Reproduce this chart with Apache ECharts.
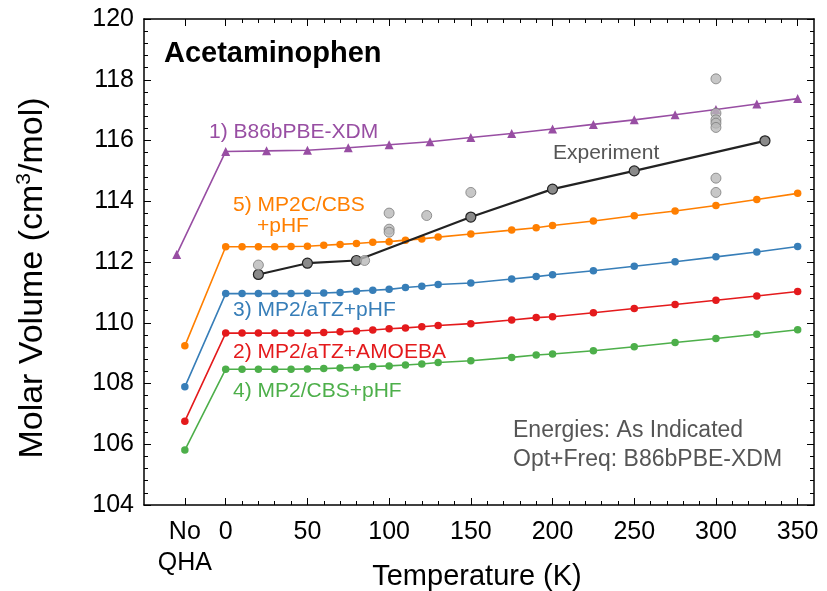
<!DOCTYPE html>
<html><head><meta charset="utf-8">
<script src="https://cdn.jsdelivr.net/npm/echarts@6/dist/echarts.min.js"></script>
<style>html,body{margin:0;padding:0;background:#fff}#c{width:827px;height:591px}</style>
</head><body><div id="c"></div>
<script>
// ---- data ----
const tempsCalc = [-25, 0, 10, 20, 30, 40, 50, 60, 70, 80, 90, 100, 110, 120, 130, 150, 175, 190, 200, 225, 250, 275, 300, 325, 350];
const mp2cCbs   = [109.24, 112.50, 112.50, 112.50, 112.50, 112.51, 112.52, 112.55, 112.58, 112.61, 112.65, 112.67, 112.72, 112.76, 112.82, 112.92, 113.05, 113.13, 113.20, 113.35, 113.52, 113.68, 113.86, 114.06, 114.26];
const mp2aTZ    = [107.89, 110.96, 110.96, 110.96, 110.96, 110.96, 110.97, 110.98, 111.00, 111.04, 111.07, 111.10, 111.16, 111.20, 111.26, 111.31, 111.44, 111.52, 111.58, 111.71, 111.86, 112.01, 112.17, 112.33, 112.51];
const mp2Amoeba = [106.76, 109.66, 109.66, 109.66, 109.66, 109.66, 109.66, 109.68, 109.70, 109.73, 109.76, 109.80, 109.83, 109.87, 109.91, 109.97, 110.09, 110.17, 110.20, 110.33, 110.47, 110.60, 110.74, 110.88, 111.03];
const mp2Cbs    = [105.81, 108.47, 108.47, 108.47, 108.47, 108.47, 108.48, 108.49, 108.51, 108.53, 108.56, 108.58, 108.61, 108.64, 108.69, 108.75, 108.86, 108.94, 108.97, 109.08, 109.21, 109.35, 109.48, 109.62, 109.77];
const tempsDft  = [-30, 0, 25, 50, 75, 100, 125, 150, 175, 200, 225, 250, 275, 300, 325, 350];
const b86bpbe   = [112.25, 115.64, 115.66, 115.68, 115.76, 115.86, 115.96, 116.10, 116.23, 116.38, 116.53, 116.68, 116.85, 117.02, 117.20, 117.38];
const tempsExp  = [20, 50, 80, 150, 200, 250, 330];
const expVol    = [111.59, 111.96, 112.05, 113.48, 114.40, 115.00, 115.99];
const otherExpT = [20, 85, 100, 100, 100, 123, 150, 300, 300, 300, 300, 300, 300, 300];
const otherExpV = [111.90, 112.05, 113.61, 113.08, 112.98, 113.53, 114.29, 118.03, 116.90, 116.68, 116.57, 116.43, 114.76, 114.29];
const xMajor = [-25, 0, 50, 100, 150, 200, 250, 300, 350];
const xMinor = [10,20,30,40,60,70,80,90,110,120,130,140,160,170,180,190,210,220,230,240,260,270,280,290,310,320,330,340];
const seriesNames = ['1) B86bPBE-XDM', '2) MP2/aTZ+AMOEBA', '3) MP2/aTZ+pHF', '4) MP2/CBS+pHF', '5) MP2C/CBS'];

const zip = (xs, ys) => xs.map((x, i) => [x, ys[i]]);
const FONT = 'Liberation Sans, Arial, Helvetica, sans-serif';

const chart = echarts.init(document.getElementById('c'), null, {renderer: 'canvas'});
const baseX = {type: 'value', min: -50, max: 360, splitLine: {show: false}};
const tickStyle = {color: '#000', width: 1};
const frameLine = {show: true, onZero: false, lineStyle: {color: '#000', width: 1.5}};
const option = {
  animation: false,
  backgroundColor: '#fff',
  grid: {left: 144, right: 13, top: 19, bottom: 86, containLabel: false},
  xAxis: [
    Object.assign({}, baseX, {position: 'bottom', axisLine: frameLine,
      axisTick: {show: true, inside: true, length: 7, customValues: xMajor, lineStyle: tickStyle},
      axisLabel: {show: true, customValues: xMajor, margin: 12, color: '#000', fontSize: 25, fontFamily: FONT, lineHeight: 31,
        formatter: v => v === -25 ? 'No\nQHA' : String(v)}}),
    Object.assign({}, baseX, {position: 'bottom', axisLine: {show: false, onZero: false},
      axisTick: {show: true, inside: true, length: 4, customValues: xMinor, lineStyle: tickStyle}, axisLabel: {show: false}}),
    Object.assign({}, baseX, {position: 'top', axisLine: frameLine,
      axisTick: {show: true, inside: true, length: 7, customValues: xMajor, lineStyle: tickStyle}, axisLabel: {show: false}}),
    Object.assign({}, baseX, {position: 'top', axisLine: {show: false, onZero: false},
      axisTick: {show: true, inside: true, length: 4, customValues: xMinor, lineStyle: tickStyle}, axisLabel: {show: false}})
  ],
  yAxis: [
    {type: 'value', min: 104, max: 120, interval: 2, position: 'left', axisLine: frameLine,
      axisTick: {show: true, inside: true, length: 7, lineStyle: tickStyle},
      minorTick: {show: true, splitNumber: 5, length: 4, lineStyle: tickStyle},
      splitLine: {show: false},
      axisLabel: {color: '#000', fontSize: 25, fontFamily: FONT, margin: 10}},
    {type: 'value', min: 104, max: 120, interval: 2, position: 'right', axisLine: frameLine,
      axisTick: {show: true, inside: true, length: 7, lineStyle: tickStyle},
      minorTick: {show: true, splitNumber: 5, length: 4, lineStyle: tickStyle},
      splitLine: {show: false}, axisLabel: {show: false}}
  ],
  series: [
    {name: seriesNames[0], type: 'line', data: zip(tempsDft, b86bpbe), symbol: 'triangle', symbolSize: 9,
      itemStyle: {color: '#984EA3'}, lineStyle: {color: '#984EA3', width: 1.6}, z: 3},
    {name: seriesNames[4], type: 'line', data: zip(tempsCalc, mp2cCbs), symbol: 'circle', symbolSize: 7.5,
      itemStyle: {color: '#FF7F00'}, lineStyle: {color: '#FF7F00', width: 1.6}, z: 3},
    {name: seriesNames[2], type: 'line', data: zip(tempsCalc, mp2aTZ), symbol: 'circle', symbolSize: 7.5,
      itemStyle: {color: '#377EB8'}, lineStyle: {color: '#377EB8', width: 1.6}, z: 3},
    {name: seriesNames[1], type: 'line', data: zip(tempsCalc, mp2Amoeba), symbol: 'circle', symbolSize: 7.5,
      itemStyle: {color: '#E41A1C'}, lineStyle: {color: '#E41A1C', width: 1.6}, z: 3},
    {name: seriesNames[3], type: 'line', data: zip(tempsCalc, mp2Cbs), symbol: 'circle', symbolSize: 7.5,
      itemStyle: {color: '#4DAF4A'}, lineStyle: {color: '#4DAF4A', width: 1.6}, z: 3},
    {name: 'Experiment', type: 'line', data: zip(tempsExp, expVol), symbol: 'circle', symbolSize: 10,
      itemStyle: {color: '#8a8a8a', borderColor: '#222', borderWidth: 1.2}, lineStyle: {color: '#222', width: 2.2}, z: 4},
    {name: 'Other experiments', type: 'scatter', data: zip(otherExpT, otherExpV), symbol: 'circle', symbolSize: 10,
      itemStyle: {color: '#b9b9b9', borderColor: '#7c7c7c', borderWidth: 1}, z: 5}
  ],
  graphic: [
    {type: 'text', x: 164, y: 54, style: {text: 'Acetaminophen', font: 'bold 29px ' + FONT, fill: '#000', textVerticalAlign: 'middle'}},
    {type: 'text', x: 209, y: 132, style: {text: seriesNames[0], font: '21px ' + FONT, fill: '#984EA3', textVerticalAlign: 'middle'}},
    {type: 'text', x: 233, y: 205, style: {text: seriesNames[4], font: '21px ' + FONT, fill: '#FF7F00', textVerticalAlign: 'middle'}},
    {type: 'text', x: 257, y: 226, style: {text: '+pHF', font: '21px ' + FONT, fill: '#FF7F00', textVerticalAlign: 'middle'}},
    {type: 'text', x: 233, y: 310, style: {text: seriesNames[2], font: '21px ' + FONT, fill: '#377EB8', textVerticalAlign: 'middle'}},
    {type: 'text', x: 233, y: 352, style: {text: seriesNames[1], font: '21px ' + FONT, fill: '#E41A1C', textVerticalAlign: 'middle'}},
    {type: 'text', x: 233, y: 391, style: {text: seriesNames[3], font: '21px ' + FONT, fill: '#4DAF4A', textVerticalAlign: 'middle'}},
    {type: 'text', x: 553, y: 153, style: {text: 'Experiment', font: '21px ' + FONT, fill: '#555', textVerticalAlign: 'middle'}},
    {type: 'text', x: 513, y: 431, style: {text: 'Energies: As Indicated', font: '23px ' + FONT, fill: '#555', textVerticalAlign: 'middle'}},
    {type: 'text', x: 513, y: 460, style: {text: 'Opt+Freq: B86bPBE-XDM', font: '23px ' + FONT, fill: '#555', textVerticalAlign: 'middle'}},
    {type: 'text', x: 477, y: 577, style: {text: 'Temperature (K)', font: '29px ' + FONT, fill: '#000', textAlign: 'center', textVerticalAlign: 'middle'}},
    {type: 'text', x: 33, y: 278, rotation: Math.PI / 2,
      style: {text: '{a|Molar Volume (cm}{s|3}{a|/mol)}', fill: '#000', textAlign: 'center', textVerticalAlign: 'middle',
        rich: {a: {fontSize: 34, fontFamily: FONT, lineHeight: 38, fill: '#000'},
               s: {fontSize: 21, fontFamily: FONT, lineHeight: 24, verticalAlign: 'top', fill: '#000'}}}}
  ]
};
chart.setOption(option);
</script></body></html>
